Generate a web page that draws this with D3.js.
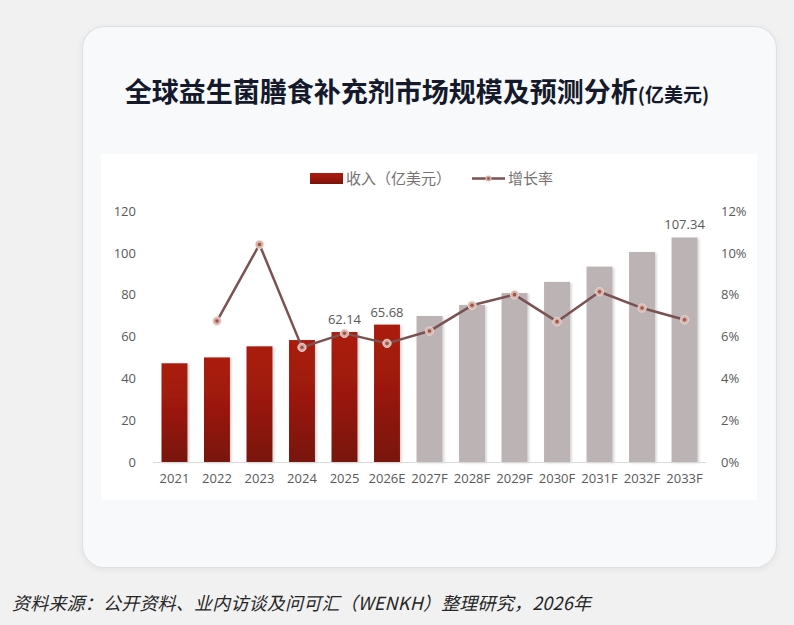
<!DOCTYPE html>
<html><head><meta charset="utf-8">
<script src="https://cdn.jsdelivr.net/npm/d3@7"></script>
<style>
html,body{margin:0;padding:0;background:#f1f1f1;}
svg{display:block;}
</style></head>
<body>
<svg id="c" width="794" height="625"></svg>
<script>
const categories = ["2021","2022","2023","2024","2025","2026E","2027F","2028F","2029F","2030F","2031F","2032F","2033F"];
const revenue = [47.2, 50.0, 55.3, 58.3, 62.14, 65.68, 69.8, 75.1, 80.8, 86.1, 93.4, 100.4, 107.34];
const growth = [null, 6.74, 10.4, 5.48, 6.15, 5.67, 6.26, 7.49, 8.0, 6.71, 8.14, 7.36, 6.8];
const isForecast = [false,false,false,false,false,false,true,true,true,true,true,true,true];
const labeled = ["2025","2026E","2033F"];
const leftTicks = [0,20,40,60,80,100,120];
const rightTicks = [0,2,4,6,8,10,12];

const svg = d3.select("#c");
const defs = svg.append("defs");
const g1 = defs.append("linearGradient").attr("id","red").attr("x1",0).attr("y1",0).attr("x2",0).attr("y2",1);
g1.append("stop").attr("offset","0%").attr("stop-color","#ab1d0f");
g1.append("stop").attr("offset","45%").attr("stop-color","#9c190d");
g1.append("stop").attr("offset","100%").attr("stop-color","#781207");
const sh = defs.append("filter").attr("id","sh").attr("x","-20%").attr("y","-10%").attr("width","150%").attr("height","130%");
sh.append("feDropShadow").attr("dx",1.5).attr("dy",1).attr("stdDeviation",1.2).attr("flood-color","#000").attr("flood-opacity",0.18);
const cs = defs.append("filter").attr("id","cs").attr("x","-10%").attr("y","-10%").attr("width","120%").attr("height","120%");
cs.append("feDropShadow").attr("dx",0).attr("dy",2).attr("stdDeviation",3).attr("flood-color","#000").attr("flood-opacity",0.06);

// background
svg.append("rect").attr("width",794).attr("height",625).attr("fill","#f1f1f1");
// card
svg.append("rect").attr("x",82.5).attr("y",26.5).attr("width",694).attr("height",541).attr("rx",22)
  .attr("fill","#f8f9fb").attr("stroke","#dfe0e3").attr("stroke-width",1.2).attr("filter","url(#cs)");
// title
const title = svg.append("text").attr("x",417).attr("y",102).attr("text-anchor","middle")
  .attr("font-family","'Noto Sans CJK SC', sans-serif").attr("font-weight","bold").attr("fill","#141a2b");
title.append("tspan").attr("font-size",27).text("全球益生菌膳食补充剂市场规模及预测分析");
title.append("tspan").attr("font-size",19).text("(亿美元)");
// white panel
svg.append("rect").attr("x",101).attr("y",154).attr("width",656).attr("height",346).attr("fill","#ffffff");

const x = d3.scaleBand().domain(categories).range([153,706]).paddingInner(0.39).paddingOuter(0.2);
const y = d3.scaleLinear().domain([0,120]).range([462,211]);
const y2 = d3.scaleLinear().domain([0,12]).range([462,211]);
const numFont = "'Open Sans', 'Noto Sans CJK SC', sans-serif";

// left axis
const la = svg.append("g").attr("transform","translate(136,0)")
  .call(d3.axisLeft(y).tickValues(leftTicks).tickSize(0).tickPadding(0));
la.select(".domain").remove();
la.selectAll("text").attr("font-family",numFont).attr("font-size",13).attr("fill","#595959");
// right axis
const ra = svg.append("g").attr("transform","translate(721,0)")
  .call(d3.axisRight(y2).tickValues(rightTicks).tickFormat(d=>d+"%").tickSize(0).tickPadding(0));
ra.select(".domain").remove();
ra.selectAll("text").attr("font-family",numFont).attr("font-size",13).attr("fill","#595959");

// bars
svg.append("g").selectAll("rect").data(categories).join("rect")
  .attr("x",d=>x(d)).attr("width",x.bandwidth())
  .attr("y",(d,i)=>y(revenue[i])).attr("height",(d,i)=>y(0)-y(revenue[i]))
  .attr("fill",(d,i)=>isForecast[i]?"#bcb3b4":"url(#red)")
  .attr("filter","url(#sh)");

// baseline
svg.append("line").attr("x1",153).attr("x2",706).attr("y1",y(0)+0.5).attr("y2",y(0)+0.5)
  .attr("stroke","#d9d9d9").attr("stroke-width",1.2);

// x axis labels
const xa = svg.append("g").attr("transform",`translate(0,${y(0)+12})`)
  .call(d3.axisBottom(x).tickSize(0).tickPadding(0));
xa.select(".domain").remove();
xa.selectAll("text").attr("font-family",numFont).attr("font-size",13).attr("fill","#595959");

// data labels
svg.append("g").selectAll("text").data(categories.filter(c=>labeled.includes(c))).join("text")
  .attr("x",d=>x(d)+x.bandwidth()/2)
  .attr("y",d=>y(revenue[categories.indexOf(d)])-8)
  .attr("text-anchor","middle").attr("font-family",numFont).attr("font-size",13).attr("fill","#595959")
  .text(d=>revenue[categories.indexOf(d)].toFixed(2));

// growth line
const pts = categories.map((c,i)=>({c,v:growth[i]})).filter(p=>p.v!==null);
const line = d3.line().x(p=>x(p.c)+x.bandwidth()/2).y(p=>y2(p.v));
svg.append("path").datum(pts).attr("d",line).attr("fill","none")
  .attr("stroke","#7c5152").attr("stroke-width",2.5).attr("stroke-linejoin","round");
const mk = svg.append("g").selectAll("g").data(pts).join("g")
  .attr("transform",p=>`translate(${x(p.c)+x.bandwidth()/2},${y2(p.v)})`);
mk.append("circle").attr("r",4.2).attr("fill","#d7b4a8").attr("stroke","#efe1dc").attr("stroke-width",0.8);
mk.append("circle").attr("r",1.8).attr("fill","#a2524a");

// legend
const lg = svg.append("g");
lg.append("rect").attr("x",310).attr("y",173).attr("width",33).attr("height",11).attr("fill","url(#red)");
lg.append("text").attr("x",346).attr("y",184).attr("font-family","'Noto Sans CJK SC', sans-serif")
  .attr("font-size",15).attr("fill","#767171").text("收入（亿美元）");
lg.append("line").attr("x1",472).attr("x2",505).attr("y1",178.5).attr("y2",178.5).attr("stroke","#7c5152").attr("stroke-width",2.5);
lg.append("circle").attr("cx",488.5).attr("cy",178.5).attr("r",3).attr("fill","#d7b4a8");
lg.append("circle").attr("cx",488.5).attr("cy",178.5).attr("r",1.4).attr("fill","#a2524a");
lg.append("text").attr("x",508).attr("y",184).attr("font-family","'Noto Sans CJK SC', sans-serif")
  .attr("font-size",15).attr("fill","#767171").text("增长率");

// source
svg.append("text").attr("x",12).attr("y",610).attr("font-family","'Noto Sans CJK SC', sans-serif")
  .attr("font-size",18).attr("font-style","italic").attr("fill","#262626").attr("letter-spacing",0.2)
  .text("资料来源：公开资料、业内访谈及问可汇（WENKH）整理研究，2026年");
</script>
</body></html>
